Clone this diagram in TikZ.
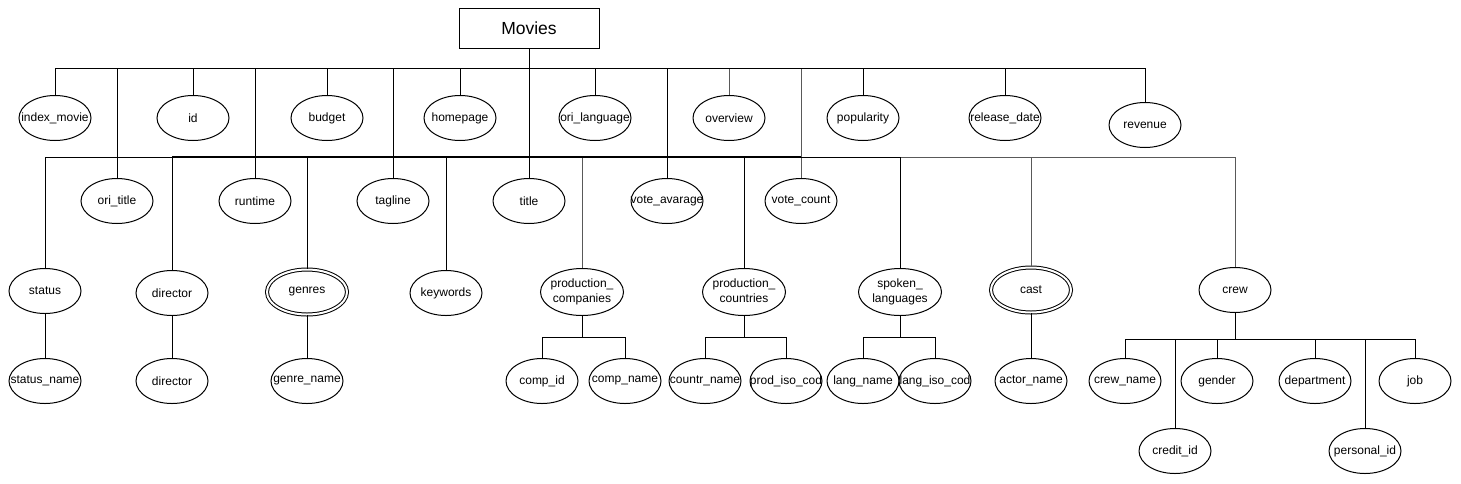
\documentclass[tikz,border=0pt]{standalone}
\usepackage{fontspec}
\setmainfont{Liberation Sans}
\usetikzlibrary{shapes.geometric}

\newcommand\attrname[1]{\makebox[0pt]{#1}}
\newcommand\twolines[2]{\makebox[0pt]{\begin{tabular}{@{}c@{}}#1\\#2\end{tabular}}}

\tikzset{
	attr/.style={ellipse, draw, inner sep=0pt, minimum width=72pt, minimum height=45pt,
		font=\fontsize{12}{14.4}\selectfont},
	wideattr/.style={attr, minimum width=83pt, minimum height=47pt},
	multi/.style={attr, double, double distance=2pt, minimum width=80pt, minimum height=45pt},
	entity/.style={rectangle, draw, minimum width=140pt, minimum height=40pt,
		font=\fontsize{17.5}{20}\selectfont},
	faint/.style={draw=black!65},
}

\begin{document}
\begin{tikzpicture}[x=1pt, y=-1pt, line width=1pt]
		\useasboundingbox (0, 0) rectangle (1461, 483);
		\node[entity] (movies) at (529, 28) {Movies};
		% rows of attributes
		\foreach \n/\x/\t in {idx/55/index\_movie, id/193/id, budget/327/budget,
			homepage/460/homepage, orilang/595/ori\_language, overview/729/overview,
			popularity/863/popularity, release/1005/release\_date} {
			\node[attr] (\n) at (\x, 118) {\attrname{\t}};
		}
		\node[attr] (revenue) at (1145, 125) {\attrname{revenue}};
		\foreach \n/\x/\t in {orititle/117/ori\_title, runtime/255/runtime, tagline/393/tagline,
			title/529/title, voteavg/667/vote\_avarage, votecount/801/vote\_count} {
			\node[attr] (\n) at (\x, 201) {\attrname{\t}};
		}
		\node[attr] (status) at (45, 291) {\attrname{status}};
		\node[attr] (director) at (172, 293) {\attrname{director}};
		\node[multi] (genres) at (307, 292) {\attrname{genres}};
		\node[attr] (keywords) at (446, 293) {\attrname{keywords}};
		\node[wideattr] (prodcomp) at (582, 292) {\twolines{production\_}{companies}};
		\node[wideattr] (prodcountry) at (744, 292) {\twolines{production\_}{countries}};
		\node[wideattr] (spoken) at (900, 292) {\twolines{spoken\_}{languages}};
		\node[multi] (cast) at (1031, 290) {\attrname{cast}};
		\node[attr] (crew) at (1235, 290) {\attrname{crew}};
		\foreach \n/\x/\t in {statusname/45/status\_name, directorname/172/director,
			genrename/307/genre\_name, compid/542/comp\_id, compname/625/comp\_name,
			countrname/705/countr\_name, prodiso/786/prod\_iso\_cod, langname/863/lang\_name,
			langiso/935/lang\_iso\_cod, actorname/1031/actor\_name, crewname/1125/crew\_name,
			gender/1217/gender, department/1315/department, job/1415/job} {
			\node[attr] (\n) at (\x, 381) {\attrname{\t}};
		}
		\node[attr] (creditid) at (1175, 451) {\attrname{credit\_id}};
		\node[attr] (personalid) at (1365, 451) {\attrname{personal\_id}};
		% bus levels
		\coordinate (tb) at (0, 68);
		\coordinate (sb) at (0, 157);
		\coordinate (cb) at (0, 337);
		\coordinate (crb) at (0, 339);
		% connectors
		\foreach \n in {overview, votecount} {
			\draw[faint] (movies.south |- tb) -| (\n.north);
		}
		\foreach \n in {prodcomp, cast, crew} {
			\draw[faint] (movies.south |- sb) -| (\n.north);
		}
		\foreach \n in {idx, id, budget, homepage, orilang, popularity, release, revenue,
			orititle, runtime, tagline, voteavg} {
			\draw (movies.south |- tb) -| (\n.north);
		}
		\foreach \n in {status, director, genres, keywords, prodcountry, spoken} {
			\draw (movies.south |- sb) -| (\n.north);
		}
		\draw[line width=2pt] (director.north |- sb) -- (votecount.north |- sb);
		\draw (movies.south) -- (title.north);
		\foreach \p/\c in {status/statusname, director/directorname, genres/genrename, cast/actorname} {
			\draw (\p.south) -- (\c.north);
		}
		\foreach \p/\c in {prodcomp/compid, prodcomp/compname, prodcountry/countrname,
			prodcountry/prodiso, spoken/langname, spoken/langiso} {
			\draw (\p.south) |- (\c.north |- cb) -- (\c.north);
		}
		\foreach \c in {crewname, creditid, gender, department, personalid, job} {
			\draw (crew.south) |- (\c.north |- crb) -- (\c.north);
		}
	\end{tikzpicture}
\end{document}
